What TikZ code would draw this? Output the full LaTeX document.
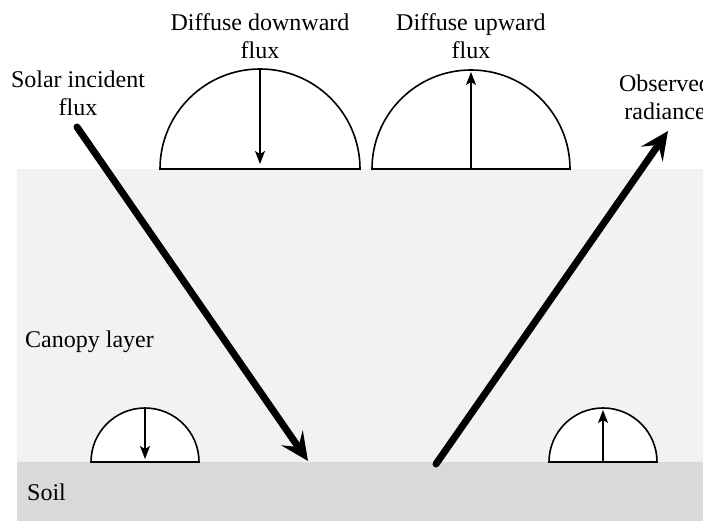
\documentclass[tikz,border=0pt]{standalone}
\usepackage{fontspec}
\setmainfont{Liberation Serif}
\usetikzlibrary{arrows.meta}
\begin{document}
\begin{tikzpicture}[
x=1pt,y=1pt,
every node/.style={font=\fontsize{24}{28}\selectfont,align=center,inner sep=0pt},
dome/.style={draw,line width=1.6pt,fill=white},
flux/.style={line width=1.4pt,-{Stealth[length=13pt,width=10pt,inset=3pt]}},
beam/.style={line width=7pt,line cap=round,-{Stealth[length=28pt,width=26pt,inset=11pt]}}
]
\useasboundingbox (0,0) rectangle (703,521);
\fill[gray!10] (17,59) rectangle (703,352);
\fill[gray!30] (17,0) rectangle (703,59);

\node (solar) at (78,428) {Solar incident\\flux};
\node (down) at (260,485) {Diffuse downward\\flux};
\node (up) at (471,485) {Diffuse upward\\flux};
\node (obs) at (665,424) {Observed\\radiance};
\node[anchor=west] (canopy) at (25,179) {Canopy layer};
\node[anchor=west] (soil) at (27,29) {Soil};

% hemispheres above the canopy
\coordinate (dl) at (260,352); \coordinate (dltop) at (260,452);
\coordinate (ul) at (471,352); \coordinate (ultop) at (471,451);
\draw[dome] (160,352) arc[start angle=180,end angle=0,radius=100] -- cycle;
\draw[dome] (372,352) arc[start angle=180,end angle=0,radius=99] -- cycle;
\draw[flux,shorten >=5pt] (dltop) -- (dl);
\draw[flux,shorten >=2pt] (ul) -- (ultop);

% hemispheres on the soil
\coordinate (ds) at (145,59); \coordinate (dstop) at (145,113);
\coordinate (us) at (603,59); \coordinate (ustop) at (603,113);
\draw[dome] (91,59) arc[start angle=180,end angle=0,radius=54] -- cycle;
\draw[dome] (549,59) arc[start angle=180,end angle=0,radius=54] -- cycle;
\draw[flux,shorten >=3pt] (dstop) -- (ds);
\draw[flux,shorten >=2pt] (us) -- (ustop);

% direct beams
\coordinate (sun) at (77,394); \coordinate (hit) at (308,60);
\coordinate (ground) at (436,57); \coordinate (eye) at (668,390);
\draw[beam] (sun) -- (hit);
\draw[beam] (ground) -- (eye);
\end{tikzpicture}
\end{document}
